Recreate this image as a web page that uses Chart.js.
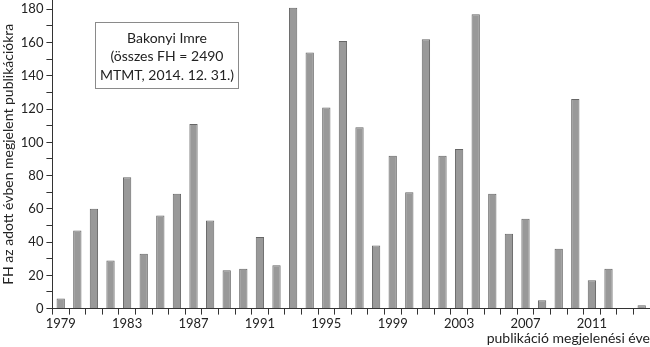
<!DOCTYPE html>
<html>
<head>
<meta charset="utf-8">
<script src="https://cdn.jsdelivr.net/npm/chart.js@4/dist/chart.umd.min.js"></script>
<style>
  body { margin: 0; background: #fff; }
  #wrap { width: 650px; height: 347px; }
</style>
</head>
<body>
<div id="wrap"><canvas id="chart" width="650" height="347"></canvas></div>
<script>
// publication years and citation counts (FH) per year
const years = [1979, 1980, 1981, 1982, 1983, 1984, 1985, 1986, 1987, 1988,
  1989, 1990, 1991, 1992, 1993, 1994, 1995, 1996, 1997, 1998,
  1999, 2000, 2001, 2002, 2003, 2004, 2005, 2006, 2007, 2008,
  2009, 2010, 2011, 2012, 2013, 2014];
const citations = [6, 47, 60, 29, 79, 33, 56, 69, 111, 53,
  23, 24, 43, 26, 181, 154, 121, 161, 109, 38,
  92, 70, 162, 92, 96, 177, 69, 45, 54, 5,
  36, 126, 17, 24, 0, 2];
const boxLines = ['Bakonyi Imre', '(összes FH = 2490', 'MTMT, 2014. 12. 31.)'];
const yTitle = 'FH az adott évben megjelent publikációkra';
const xTitle = 'publikáció megjelenési éve';

const FONT = 'Lato, "Open Sans", sans-serif';

const infoBox = { // the framed note in the upper left
  id: 'infoBox',
  afterDraw(chart) {
    const ctx = chart.ctx;
    ctx.save();
    ctx.strokeStyle = '#8a8a8a';
    ctx.lineWidth = 1;
    ctx.strokeRect(95.5, 22.5, 143, 66);
    ctx.fillStyle = '#222';
    ctx.font = '14px ' + FONT;
    ctx.textAlign = 'center';
    ctx.textBaseline = 'middle';
    boxLines.forEach((t, i) => ctx.fillText(t, 167, 38 + i * 18.5));
    ctx.restore();
  }
};

new Chart(document.getElementById('chart'), {
  type: 'bar',
  data: {
    labels: years,
    datasets: [{
      data: citations,
      backgroundColor: '#999999',
      borderColor: '#666666',
      borderWidth: 1,
      barPercentage: 0.5,
      categoryPercentage: 1
    }]
  },
  options: {
    responsive: false,
    animation: false,
    layout: { padding: 0 },
    plugins: { legend: { display: false }, tooltip: { enabled: false } },
    scales: {
      x: {
        offset: true,
        grid: { offset: true, color: 'transparent', tickColor: '#333', tickLength: 6, drawTicks: true },
        border: { display: true, color: '#333', width: 1 },
        ticks: {
          autoSkip: false, maxRotation: 0, padding: 1,
          color: '#222', font: { family: FONT, size: 13 },
          callback: (v, i) => (i % 4 === 0 ? years[i] : '')
        },
        title: {
          display: true, text: xTitle, align: 'end', color: '#222',
          font: { family: FONT, size: 14 }, padding: { top: -2, bottom: 0 }
        }
      },
      y: {
        min: 0, max: 185.6,
        afterFit: s => { s.paddingTop = 0; }, // let the axis run up to the top edge
        grid: { color: 'transparent', tickColor: '#333', tickLength: 6, drawTicks: true },
        border: { display: true, color: '#333', width: 1 },
        ticks: {
          autoSkip: false, includeBounds: false, stepSize: 10, padding: 3,
          color: '#222', font: { family: FONT, size: 13 },
          callback: v => (v % 20 === 0 ? v : '')
        },
        title: {
          display: true, text: yTitle, color: '#222',
          font: { family: FONT, size: 14 }, padding: { top: 0, bottom: 1 }
        }
      }
    }
  },
  plugins: [infoBox]
});
</script>
</body>
</html>
